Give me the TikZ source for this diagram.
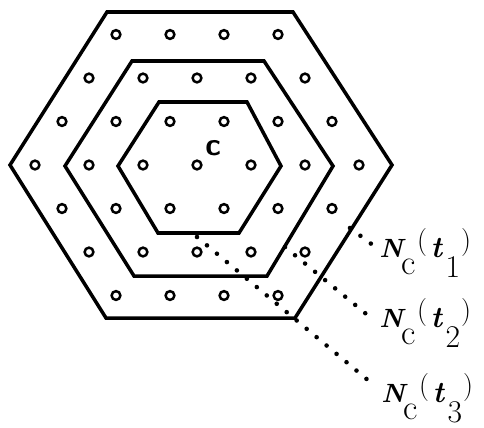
\documentclass[tikz,border=0pt]{standalone}
\usepackage{tikz}
\usetikzlibrary{positioning}
\tikzset{
  hexa/.style={line width=2pt, line join=miter},
  neurona/.style={circle, draw, line width=1.4pt, inner sep=0pt,
    minimum size=5pt},
  punteada/.style={line width=2.6pt, line cap=round,
    dash pattern=on 0pt off 7.4pt},
  etiq/.style={inner sep=0pt, anchor=base west,
    font=\fontsize{15}{17}\selectfont},
  centro/.style={inner sep=0pt, font=\sffamily\bfseries\fontsize{18}{20}\selectfont}
}
\newcommand{\nclab}[1]{{\bfseries\itshape N}\hspace{-1pt}%
  \raisebox{-10pt}{\fontsize{20}{20}\selectfont c}%
  \hspace{1pt}\raisebox{4pt}{\fontsize{16}{16}\selectfont(}\hspace{2pt}%
  {\fontsize{17}{17}\selectfont\bfseries\itshape t}\hspace{2pt}%
  \raisebox{-11.5pt}{\fontsize{18}{18}\selectfont #1}\hspace{0.5pt}%
  \raisebox{4pt}{\fontsize{16}{16}\selectfont)}}

\begin{document}
\begin{tikzpicture}[x=0.02cm, y=-0.02cm]
  \useasboundingbox (0,0) rectangle (484,427);
  % hexagonos
  \draw[hexa] (107,12) -- (293,12) -- (392,165) -- (295,318) -- (106,318) -- (10,165) -- cycle;
  \draw[hexa] (132,61) -- (264,61) -- (333,166) -- (267,276) -- (134,276) -- (65,166) -- cycle;
  \draw[hexa] (159,102) -- (247,102) -- (281,166) -- (239,233) -- (158,233) -- (118,166) -- cycle;
  % neuronas
  \foreach \f/\n in {-3/4,-2/5,-1/6,0/7,1/6,2/5,3/4}
    \foreach \i in {1,...,\n}
      \node[neurona] (n\f\i) at ({197+(\i-(\n+1)/2)*54}, {165+\f*43.5}) {};
  \node[centro] (c) at (213,148) {c};
  % vecindades
  \coordinate (s1) at (350,228);
  \coordinate (s2) at (285,247);
  \coordinate (s3) at (197,237);
  \node[etiq] (l1) at (379,257) {\nclab{1}};
  \node[etiq] (l2) at (379,327) {\nclab{2}};
  \node[etiq] (l3) at (381,402) {\nclab{3}};
  \draw[punteada] (s1) -- ([xshift=-3.5pt,yshift=6.8pt]l1.base west);
  \draw[punteada] (s2) -- ([xshift=-5.2pt,yshift=5.7pt]l2.base west);
  \draw[punteada] (s3) -- ([xshift=-7.5pt,yshift=12.5pt]l3.base west);
\end{tikzpicture}
\end{document}
